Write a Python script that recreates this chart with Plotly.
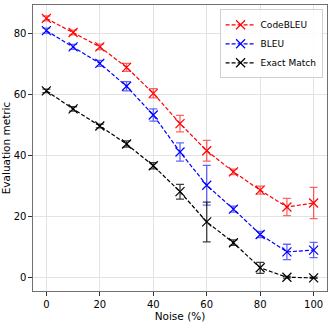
import plotly.graph_objects as go

noise = [0, 10, 20, 30, 40, 50, 60, 70, 80, 90, 100]

codebleu = [84.9, 80.3, 75.6, 68.9, 60.4, 50.5, 41.6, 34.7, 28.7, 23.2, 24.5]
codebleu_err = [0.8, 0.8, 0.9, 1.3, 1.5, 2.7, 3.4, 0.9, 1.3, 2.8, 5.1]

bleu = [80.9, 75.6, 70.2, 62.7, 53.3, 41.2, 30.3, 22.5, 14.2, 8.5, 9.1]
bleu_err = [0.8, 0.8, 1.0, 1.5, 2.0, 3.0, 6.5, 1.0, 1.0, 2.5, 2.5]

exact = [61.2, 55.3, 49.7, 43.8, 36.7, 28.2, 18.3, 11.5, 3.3, 0.2, 0.0]
exact_err = [0.6, 0.7, 0.6, 1.0, 1.0, 2.4, 6.5, 0.9, 1.8, 0.3, 0.2]

series = [
    ('CodeBLEU', codebleu, codebleu_err, 'red', 'rgba(255,0,0,0.6)'),
    ('BLEU', bleu, bleu_err, 'blue', 'rgba(0,0,255,0.6)'),
    ('Exact Match', exact, exact_err, 'black', 'rgba(0,0,0,0.75)'),
]

fig = go.Figure()
for name, vals, err, col, ecol in series:
    fig.add_trace(go.Scatter(
        x=noise, y=vals, name=name, mode='lines+markers',
        line=dict(color=col, width=1.2, dash='4px,2px'),
        marker=dict(symbol='x-thin', size=9, line=dict(color=col, width=1.2)),
        error_y=dict(type='data', array=err, visible=True,
                     color=ecol, thickness=1.3, width=4)))

axis_common = dict(showline=True, linecolor='#707070', linewidth=1.2, mirror=True,
                   showgrid=True, gridcolor='#e3e3e3', gridwidth=1,
                   ticks='outside', ticklen=3.5, tickcolor='#333',
                   zeroline=False, automargin=False,
                   tickfont=dict(size=10, color='black'))

fig.update_layout(
    width=332, height=322,
    margin=dict(l=33, r=5, t=5, b=31),
    paper_bgcolor='white', plot_bgcolor='white',
    font=dict(family='DejaVu Sans', size=10, color='black'),
    xaxis=dict(range=[-5, 105], tickvals=[0, 20, 40, 60, 80, 100],
               title=dict(text='Noise (%)', standoff=2, font=dict(size=10.5)),
               **axis_common),
    yaxis=dict(range=[-4.3, 89.3], tickvals=[0, 20, 40, 60, 80],
               title=dict(text='Evaluation metric', standoff=1, font=dict(size=10.5)),
               **axis_common),
    legend=dict(x=0.985, y=0.985, xanchor='right', yanchor='top',
                bgcolor='rgba(255,255,255,0.85)', bordercolor='#d0d0d0', borderwidth=1,
                font=dict(size=9), itemwidth=30, tracegroupgap=0),
    showlegend=True,
)

fig.write_html("out.html", config={'displayModeBar': False},
               post_script="document.body.style.margin='0';")
